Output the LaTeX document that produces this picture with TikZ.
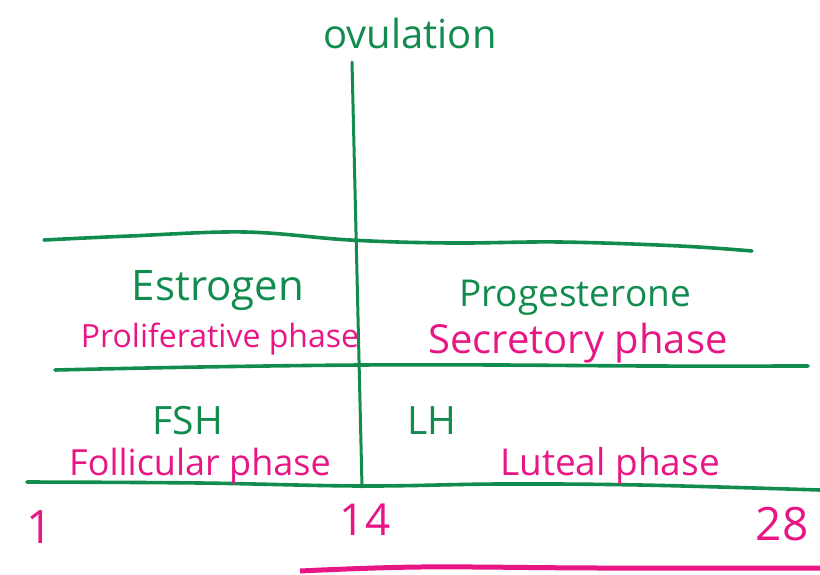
\documentclass[tikz,border=0pt]{standalone}
\usepackage{fontspec}
\setmainfont{Open Sans}
\definecolor{pen}{RGB}{18,140,78}
\definecolor{ink}{RGB}{232,22,132}
\newcommand{\fsz}[1]{\fontsize{#1}{#1}\selectfont}
\begin{document}
\begin{tikzpicture}[x=1pt,y=-1pt,
  penline/.style={draw=pen,line width=3.6pt,line cap=round,line join=round},
  greentxt/.style={text=pen,inner sep=0pt},
  pinktxt/.style={text=ink,inner sep=0pt},
  numtxt/.style={text=ink,inner sep=0pt}]
\useasboundingbox (0,0) rectangle (820,574);
% vertical ovulation line
\coordinate (vtop) at (352,62);
\coordinate (vbot) at (362,487);
\draw[penline,line width=3pt] (vtop) -- (vbot);
% horizontal lines
\draw[penline] plot[smooth,tension=0.6] coordinates {(44,240) (130,236) (245,232) (350,240) (450,243) (560,242) (680,246) (752,251)};
\draw[penline] plot[smooth,tension=0.6] coordinates {(55,370) (200,367) (360,365) (500,365) (650,366) (808,366)};
\draw[penline] plot[smooth,tension=0.6] coordinates {(27,482) (200,483) (362,486) (500,484) (640,485) (820,490)};
% bottom magenta stroke
\draw[draw=ink,line width=5pt] plot[smooth,tension=0.6] coordinates {(300,571) (420,567) (600,568) (820,568)};
% labels
\node[greentxt,font=\fsz{40}] (ov) at (410,33) {ovulation};
\node[greentxt,font=\fsz{42}] (es) at (218,291) {Estrogen};
\node[greentxt,font=\fsz{37}] (pr) at (575,298) {Progesterone};
\node[pinktxt,font=\fsz{32}] (pp) at (220,339) {Proliferative phase};
\node[pinktxt,font=\fsz{40}] (sp) at (578,343) {Secretory phase};
\node[greentxt,font=\fsz{39}] (fsh) at (188,421) {FSH};
\node[greentxt,font=\fsz{39}] (lh) at (432,421) {LH};
\node[pinktxt,font=\fsz{36}] (fp) at (200,466) {Follicular phase};
\node[pinktxt,font=\fsz{37}] (lp) at (610,466) {Luteal phase};
\node[numtxt,font=\fsz{46}] (n1) at (40,527) {1};
\node[numtxt,font=\fsz{44}] (n14) at (365,520) {14};
\node[numtxt,font=\fsz{46}] (n28) at (782,524) {28};
\end{tikzpicture}
\end{document}
